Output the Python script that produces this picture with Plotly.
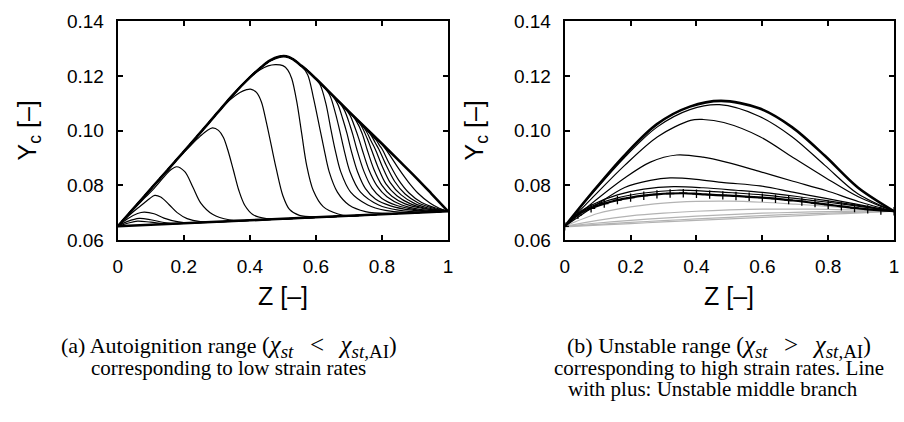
import plotly.graph_objects as go

# ---------------- data ----------------
X_TICKS = [0, 0.2, 0.4, 0.6, 0.8, 1.0]
X_TICKTEXT = ["0", "0.2", "0.4", "0.6", "0.8", "1"]
Y_TICKS = [0.06, 0.08, 0.10, 0.12, 0.14]
Y_TICKTEXT = ["0.06", "0.08", "0.10", "0.12", "0.14"]

# Left panel: burning envelope and pure mixing line
ENV_Z = [0, 0.05, 0.1, 0.15, 0.2, 0.25, 0.3, 0.35, 0.4, 0.43, 0.46, 0.49, 0.51, 0.53,
         0.55, 0.57, 0.6, 0.65, 0.7, 0.75, 0.8, 0.85, 0.9, 0.95, 1.0]
ENV_Y = [0.065, 0.0718, 0.0787, 0.0855, 0.0923, 0.0993, 0.1063, 0.1133, 0.1195, 0.1228,
         0.1256, 0.1271, 0.1272, 0.1262, 0.1243, 0.1224, 0.1190, 0.1130, 0.1070, 0.1011,
         0.0952, 0.0892, 0.0832, 0.0769, 0.0705]
MIX_Z = [0, 0.1, 0.2, 0.3, 0.4, 0.5, 0.6, 0.7, 0.8, 0.9, 1.0]
MIX_Y = [0.0650, 0.06555, 0.0661, 0.06665, 0.0672, 0.06775, 0.0683, 0.06885, 0.0694,
         0.06995, 0.0705]

# Left panel: autoignition flamelets (own part of each curve)
L_CURVES = [
    ([0, 0.03, 0.06, 0.10, 0.15], [0.065, 0.0661, 0.0669, 0.0665, 0.0659]),
    ([0, 0.03, 0.065, 0.10, 0.14, 0.18], [0.065, 0.0668, 0.0679, 0.0674, 0.0664, 0.0660]),
    ([0, 0.03, 0.06, 0.08, 0.11, 0.14, 0.18, 0.22],
     [0.065, 0.0678, 0.0697, 0.0702, 0.0696, 0.0680, 0.0667, 0.0662]),
    ([0, 0.02, 0.04, 0.06, 0.08, 0.097, 0.112, 0.13, 0.155, 0.18, 0.21, 0.25],
     [0.065, 0.0674, 0.0696, 0.0716, 0.0735, 0.0752, 0.0763, 0.0757, 0.0730, 0.0700, 0.0678, 0.0667]),
    ([0, 0.04, 0.08, 0.108, 0.138, 0.16, 0.178, 0.203, 0.228, 0.252, 0.287, 0.337],
     [0.065, 0.0703, 0.0752, 0.0786, 0.0828, 0.0856, 0.0868, 0.0850, 0.0792, 0.0734, 0.0694, 0.0674]),
    ([0.18, 0.22, 0.25, 0.27, 0.287, 0.305, 0.32, 0.335, 0.35, 0.367, 0.385, 0.41, 0.45],
     [0.0896, 0.0945, 0.0980, 0.1000, 0.1010, 0.1001, 0.0975, 0.0922, 0.0856, 0.0780, 0.0726, 0.0692, 0.0678]),
    ([0.3, 0.34, 0.37, 0.39, 0.402, 0.42, 0.435, 0.45, 0.465, 0.48, 0.5, 0.52, 0.55, 0.6],
     [0.1063, 0.1113, 0.1140, 0.1150, 0.1152, 0.1140, 0.1105, 0.1030, 0.0945, 0.0860, 0.0762, 0.0712, 0.0690, 0.0684]),
    ([0.4, 0.43, 0.455, 0.477, 0.5, 0.515, 0.527, 0.542, 0.557, 0.572, 0.592, 0.622, 0.667],
     [0.1195, 0.1222, 0.1237, 0.1242, 0.1238, 0.1222, 0.1190, 0.1106, 0.0989, 0.0873, 0.0781, 0.0722, 0.0695]),
    ([0.555, 0.575, 0.592, 0.612, 0.625, 0.640, 0.665, 0.700, 0.750, 0.820],
     [0.1238, 0.1205, 0.1123, 0.1007, 0.0931, 0.0850, 0.0775, 0.0728, 0.0704, 0.0697]),
    ([0.59, 0.612, 0.630, 0.645, 0.658, 0.675, 0.705, 0.757, 0.81, 0.88],
     [0.1202, 0.1170, 0.1100, 0.1007, 0.0931, 0.0850, 0.0775, 0.0728, 0.0708, 0.0700]),
    ([0.62, 0.642, 0.660, 0.672, 0.685, 0.703, 0.735, 0.79, 0.85, 0.92],
     [0.1166, 0.1130, 0.1060, 0.1000, 0.0931, 0.0850, 0.0775, 0.0728, 0.0709, 0.0702]),
    ([0.64, 0.665, 0.682, 0.694, 0.706, 0.726, 0.750, 0.780, 0.826, 0.89, 0.95],
     [0.1142, 0.1100, 0.1040, 0.0990, 0.0931, 0.0850, 0.0788, 0.0750, 0.0725, 0.0709, 0.0704]),
    ([0.66, 0.685, 0.703, 0.713, 0.724, 0.745, 0.770, 0.800, 0.845, 0.90, 0.95],
     [0.1118, 0.1078, 0.1020, 0.0980, 0.0931, 0.0852, 0.0790, 0.0752, 0.0726, 0.0711, 0.0705]),
    ([0.68, 0.703, 0.720, 0.730, 0.740, 0.760, 0.785, 0.815, 0.86, 0.91, 0.96],
     [0.1094, 0.1057, 0.1005, 0.0970, 0.0931, 0.0858, 0.0798, 0.0758, 0.0728, 0.0713, 0.0707]),
    ([0.70, 0.722, 0.740, 0.755, 0.775, 0.80, 0.83, 0.87, 0.92, 0.97],
     [0.1070, 0.1036, 0.0990, 0.0931, 0.0860, 0.0800, 0.0760, 0.0732, 0.0716, 0.0708]),
    ([0.715, 0.738, 0.755, 0.768, 0.788, 0.812, 0.845, 0.885, 0.93, 0.975],
     [0.1052, 0.1016, 0.0972, 0.0931, 0.0866, 0.0805, 0.0762, 0.0733, 0.0716, 0.0708]),
    ([0.73, 0.752, 0.768, 0.780, 0.80, 0.825, 0.858, 0.898, 0.94, 0.98],
     [0.1033, 0.0999, 0.0960, 0.0931, 0.0872, 0.0810, 0.0765, 0.0734, 0.0717, 0.0708]),
    ([0.745, 0.768, 0.780, 0.791, 0.812, 0.838, 0.870, 0.91, 0.95, 0.985],
     [0.1015, 0.0981, 0.0955, 0.0931, 0.0875, 0.0815, 0.0768, 0.0735, 0.0718, 0.0708]),
    ([0.76, 0.782, 0.792, 0.801, 0.822, 0.850, 0.882, 0.92, 0.96, 0.988],
     [0.0996, 0.0966, 0.0947, 0.0931, 0.0880, 0.0820, 0.0772, 0.0737, 0.0718, 0.0709]),
    ([0.78, 0.80, 0.825, 0.85, 0.88, 0.91, 0.945, 0.975],
     [0.0972, 0.0950, 0.0908, 0.0862, 0.0812, 0.0770, 0.0735, 0.0715]),
]

# Right panel: stable (black) and weakly reacting (grey) flamelets
R_BLACK = [
    ([0, 0.08, 0.18, 0.28, 0.38, 0.47, 0.59, 0.69, 0.79, 0.89, 1.0],
     [0.065, 0.0765, 0.0900, 0.1013, 0.1077, 0.1095, 0.1053, 0.0978, 0.0873, 0.0769, 0.0705]),
    ([0, 0.082, 0.182, 0.282, 0.382, 0.42, 0.483, 0.593, 0.693, 0.793, 0.893, 1.0],
     [0.065, 0.0752, 0.0873, 0.0978, 0.1038, 0.1041, 0.1030, 0.0978, 0.0902, 0.0827, 0.0757, 0.0705]),
    ([0, 0.082, 0.182, 0.26, 0.34, 0.42, 0.49, 0.593, 0.693, 0.793, 0.893, 1.0],
     [0.065, 0.0734, 0.0827, 0.0885, 0.0911, 0.0903, 0.0885, 0.0850, 0.0815, 0.0781, 0.0740, 0.0705]),
    ([0, 0.082, 0.182, 0.26, 0.32, 0.40, 0.483, 0.593, 0.693, 0.793, 0.893, 1.0],
     [0.065, 0.0717, 0.0792, 0.0818, 0.0827, 0.0822, 0.0810, 0.0798, 0.0775, 0.0752, 0.0729, 0.0705]),
    ([0, 0.04, 0.082, 0.16, 0.24, 0.33, 0.42, 0.52, 0.6, 0.7, 0.8, 0.9, 1.0],
     [0.065, 0.0698, 0.0728, 0.0765, 0.0786, 0.0795, 0.0791, 0.0782, 0.0774, 0.0760, 0.0743, 0.0725, 0.0705]),
    ([0, 0.04, 0.08, 0.16, 0.24, 0.34, 0.44, 0.52, 0.6, 0.7, 0.8, 0.9, 1.0],
     [0.065, 0.0695, 0.0722, 0.0754, 0.0772, 0.0782, 0.0778, 0.0772, 0.0765, 0.0752, 0.0738, 0.0722, 0.0705]),
]
R_TOP_Z = [0, 0.08, 0.18, 0.28, 0.38, 0.475, 0.59, 0.69, 0.79, 0.89, 1.0]
R_TOP_Y = [0.065, 0.0769, 0.0908, 0.1024, 0.1088, 0.1109, 0.1082, 0.1013, 0.0908, 0.0792, 0.0705]

GREY_Z = [0, 0.1, 0.2, 0.3, 0.4, 0.5, 0.6, 0.7, 0.8, 0.9, 1.0]
R_GREY = [
    [0.065, 0.0697, 0.0721, 0.0735, 0.0741, 0.0742, 0.0738, 0.0731, 0.0723, 0.0714, 0.0705],
    [0.065, 0.0672, 0.0688, 0.0698, 0.0705, 0.0710, 0.0713, 0.0713, 0.0712, 0.0709, 0.0705],
    [0.065, 0.0662, 0.0672, 0.0680, 0.0687, 0.0693, 0.0698, 0.0701, 0.0704, 0.0705, 0.0705],
    [0.065, 0.0657, 0.0664, 0.0671, 0.0677, 0.0683, 0.0689, 0.0694, 0.0698, 0.0702, 0.0705],
    [0.0648, 0.0654, 0.0660, 0.0666, 0.0672, 0.0677, 0.0683, 0.0688, 0.0694, 0.0699, 0.0705],
]

# Unstable middle branch (line with plus markers)
PLUS_Z = [0, 0.04, 0.08, 0.12, 0.16, 0.20, 0.24, 0.28, 0.32, 0.36, 0.40, 0.44, 0.48,
          0.52, 0.56, 0.60, 0.64, 0.68, 0.72, 0.76, 0.80, 0.84, 0.88, 0.92, 0.96, 1.0]
PLUS_Y = [0.0650, 0.0692, 0.0716, 0.0733, 0.0746, 0.0755, 0.0762, 0.0767, 0.0770, 0.0771,
          0.0769, 0.0766, 0.0763, 0.0761, 0.0758, 0.0755, 0.0751, 0.0746, 0.0741, 0.0735,
          0.0729, 0.0723, 0.0717, 0.0712, 0.0708, 0.0705]

# ---------------- figure ----------------
fig = go.Figure()


def add_line(z, y, xa, ya, color="black", width=1.2, mode="lines", marker=None):
    fig.add_trace(go.Scatter(
        x=z, y=y, xaxis=xa, yaxis=ya, mode=mode,
        line=dict(color=color, width=width, shape="spline", smoothing=0.9),
        marker=marker, showlegend=False, hoverinfo="skip"))


def full_curve(cz, cy):
    z, y = [], []
    for a, b in zip(ENV_Z, ENV_Y):
        if a < cz[0] - 0.015:
            z.append(a); y.append(b)
    z += list(cz); y += list(cy)
    for a, b in zip(MIX_Z, MIX_Y):
        if a > cz[-1] + 0.015:
            z.append(a); y.append(b)
    return z, y


for cz, cy in L_CURVES:
    z, y = full_curve(cz, cy)
    add_line(z, y, "x", "y")
add_line(MIX_Z, MIX_Y, "x", "y", width=2.6)
add_line(ENV_Z, ENV_Y, "x", "y", width=2.6)

for cy in R_GREY:
    add_line(GREY_Z, cy, "x2", "y2", color="#b3b3b3", width=1.2)
for cz, cy in R_BLACK:
    add_line(cz, cy, "x2", "y2")
add_line(PLUS_Z, PLUS_Y, "x2", "y2", width=2.2, mode="lines+markers",
         marker=dict(symbol="cross-thin", size=6, color="black",
                     line=dict(color="black", width=1.3)))
add_line(R_TOP_Z, R_TOP_Y, "x2", "y2", width=2.6)

W, H = 904, 422
axis_common = dict(
    showline=True, linecolor="black", linewidth=2, mirror="ticks",
    ticks="inside", ticklen=5, tickwidth=1.5, tickcolor="black",
    showgrid=False, zeroline=False,
    tickfont=dict(family="Liberation Sans, Arial, sans-serif", size=19, color="black"),
)
yd = [(H - 242) / H, (H - 12) / H]
fig.update_layout(
    width=W, height=H, margin=dict(l=0, r=0, t=0, b=0),
    plot_bgcolor="white", paper_bgcolor="white",
    xaxis=dict(domain=[114 / W, 448 / W], range=[0, 1], anchor="y",
               tickvals=X_TICKS, ticktext=X_TICKTEXT, ticklabelstandoff=8, **axis_common),
    yaxis=dict(domain=yd, range=[0.06, 0.14], anchor="x",
               tickvals=Y_TICKS, ticktext=Y_TICKTEXT, ticklabelstandoff=8, **axis_common),
    xaxis2=dict(domain=[566 / W, 899 / W], range=[0, 1], anchor="y2",
                tickvals=X_TICKS, ticktext=X_TICKTEXT, ticklabelstandoff=8, **axis_common),
    yaxis2=dict(domain=yd, range=[0.06, 0.14], anchor="x2",
                tickvals=Y_TICKS, ticktext=Y_TICKTEXT, ticklabelstandoff=8, **axis_common),
)

sans = dict(family="Liberation Sans, Arial, sans-serif", size=25, color="black")
serif = dict(family="Liberation Serif, Times New Roman, serif", size=21, color="black")
serif_l1 = dict(family="Liberation Serif, Times New Roman, serif", size=22, color="black")
ann = []
for cx in (24, 476):
    ann.append(dict(text="Y<sub>c</sub> [–]", x=cx / W, y=(H - 127) / H, xref="paper",
                    yref="paper", textangle=-90, showarrow=False, font=sans,
                    xanchor="center", yanchor="middle"))
for cx in (281, 732):
    ann.append(dict(text="Z [–]", x=cx / W, y=(H - 301) / H, xref="paper", yref="paper",
                    showarrow=False, font=sans, xanchor="center", yanchor="middle"))

BIG = '<span style="font-size:25px">'
PAR = '<span style="font-size:23px">'
SUB = '<span style="font-size:19px">'
GAP = "&nbsp;&nbsp;&nbsp;"


def chi_rel(rel):
    chi = BIG + "<i>χ</i></span>"
    return (PAR + "(</span>" + chi + "<sub>" + SUB + "<i>st</i></span></sub>" + GAP +
            BIG + rel + "</span>" + GAP + chi + "<sub>" + SUB + "<i>st</i>,AI</span></sub>" +
            PAR + ")</span>")


captions = [
    (226, 354, "(a) Autoignition range " + chi_rel("&lt;"), serif_l1),
    (226, 377, "corresponding to low strain rates", serif),
    (722, 354, "(b) Unstable range " + chi_rel("&gt;"), serif_l1),
    (722, 377, "corresponding to high strain rates. Line", serif),
    (716, 399, "with plus: Unstable middle branch", serif),
]
for cx, cy, t, f in captions:
    ann.append(dict(text=t, x=cx / W, y=(H - cy) / H, xref="paper", yref="paper",
                    showarrow=False, font=f, xanchor="center", yanchor="middle"))
fig.update_layout(annotations=ann)

fig.write_html("out.html")
